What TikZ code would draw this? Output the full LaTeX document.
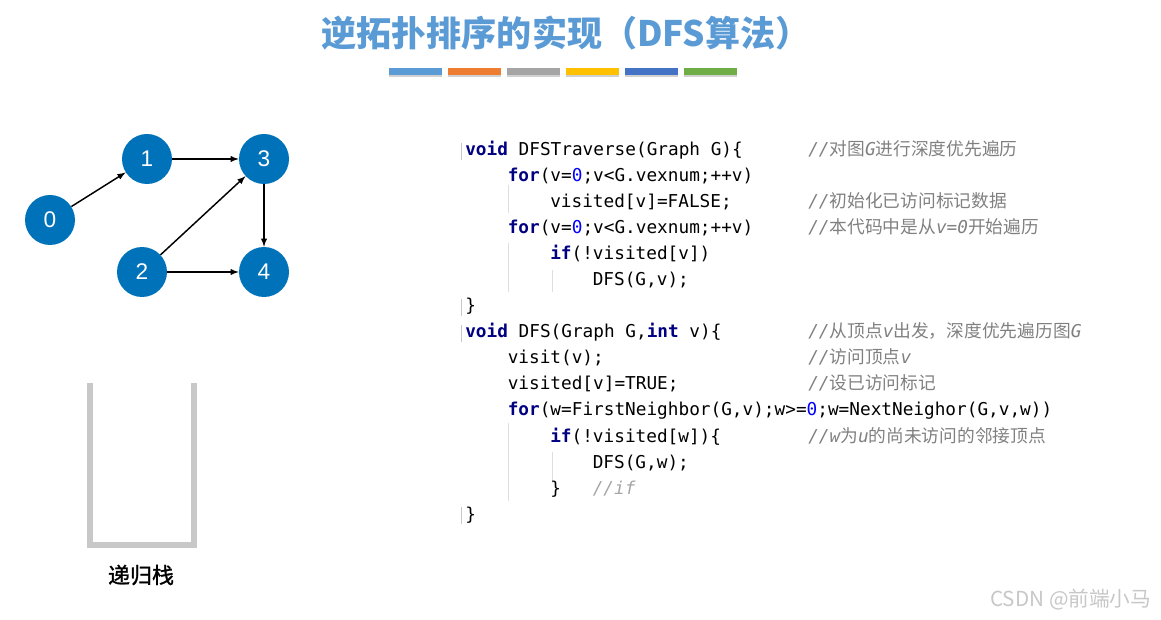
\documentclass[tikz,border=0pt]{standalone}
\usepackage{fontspec}
\setmainfont{Liberation Sans}
\setmonofont{DejaVu Sans Mono}
\newfontfamily\cjk{Noto Sans CJK SC}
\newfontfamily\cjkheavy[FakeBold=1.2]{Noto Sans CJK SC}
\usepackage{xcolor}
\usepackage{tikz}
\usetikzlibrary{arrows}

\definecolor{titleblue}{RGB}{91,155,213}
\definecolor{vertexblue}{RGB}{0,114,186}
\definecolor{keynavy}{RGB}{0,0,128}
\definecolor{digitblue}{RGB}{0,0,255}
\definecolor{cmtgray}{RGB}{128,128,128}
\definecolor{iflight}{RGB}{165,165,165}
\definecolor{guidegray}{RGB}{222,222,222}
\definecolor{stackgray}{RGB}{200,200,200}
\definecolor{markgray}{RGB}{200,200,200}

\newcommand{\kw}[1]{{\bfseries\color{keynavy}#1}}
\newcommand{\dg}[1]{{\color{digitblue}#1}}
\newcommand{\zh}[1]{{\cjk\upshape #1}}

\tikzset{
  vertex/.style={circle, fill=vertexblue, minimum size=37.5pt, inner sep=0pt,
    text=white, font=\fontsize{17}{19}\selectfont},
  edge/.style={-latex, line width=1.1pt, black},
  codeline/.style={anchor=base west, inner sep=0pt,
    font=\ttfamily\fontsize{13.3}{15}\selectfont},
  comment/.style={codeline, text=cmtgray,
    font=\ttfamily\itshape\fontsize{13.3}{15}\selectfont},
  guide/.style={guidegray, line width=0.75pt},
}

\begin{document}
\begin{tikzpicture}[x=0.75pt, y=-0.75pt]
  \useasboundingbox (0,0) rectangle (1161,620);

  % title and colour bars
  \node[text=titleblue, font=\cjk\bfseries\fontsize{26.3}{28}\selectfont] (title) at (566,33) {逆拓扑排序的实现（DFS算法）};
  \foreach \cr/\cg/\cb [count=\i from 0] in {91/155/213, 237/125/49, 165/165/165, 255/192/0, 68/114/196, 112/173/71} {
    \definecolor{barcol}{RGB}{\cr,\cg,\cb}
    \fill[black, opacity=0.18] (389+59*\i,69.5) rectangle ++(53,7.5);
    \fill[barcol] (389+59*\i,68) rectangle ++(53,7);
  }

  % graph
  \node[vertex] (v0) at (50,220) {0};
  \node[vertex] (v1) at (147,159) {1};
  \node[vertex] (v3) at (264,159) {3};
  \node[vertex] (v2) at (142,272) {2};
  \node[vertex] (v4) at (264,272) {4};

  \draw[edge] (v0) -- (v1);
  \draw[edge] (v1) -- (v3);
  \draw[edge] (v2) -- (v3);
  \draw[edge] (v2) -- (v4);
  \draw[edge] (v3) -- (v4);

  % recursion stack
  \draw[stackgray, line width=4.5pt] (89.5,383) -- (89.5,544.5) -- (193.5,544.5) -- (193.5,383);
  \node[font=\cjkheavy\fontsize{16.5}{18}\selectfont] (stacklabel) at (141,575) {递归栈};

  % indent guides
  \foreach \y in {156,312,338,520} \draw[markgray, line width=0.75pt] (461,\y-13) -- (461,\y+4);
  \draw[guide] (508,185) -- (508,213);
  \draw[guide] (508,243) -- (508,292);
  \draw[guide] (552,270) -- (552,292);
  \draw[guide] (508,423) -- (508,501);
  \draw[guide] (552,452) -- (552,483);

  % code
  \node[codeline] (c0) at (465,156) {\kw{void} DFSTraverse(Graph G)\{};
  \node[codeline] (c1) at (507.5,182) {\kw{for}(v=\dg{0};v<G.vexnum;++v)};
  \node[codeline] (c2) at (550,208) {visited[v]=FALSE;};
  \node[codeline] (c3) at (507.5,234) {\kw{for}(v=\dg{0};v<G.vexnum;++v)};
  \node[codeline] (c4) at (550,260) {\kw{if}(!visited[v])};
  \node[codeline] (c5) at (592.5,286) {DFS(G,v);};
  \node[codeline] (c6) at (465,312) {\}};
  \node[codeline] (c7) at (465,338) {\kw{void} DFS(Graph G,\kw{int} v)\{};
  \node[codeline] (c8) at (507.5,364) {visit(v);};
  \node[codeline] (c9) at (507.5,390) {visited[v]=TRUE;};
  \node[codeline] (c10) at (507.5,416) {\kw{for}(w=FirstNeighbor(G,v);w>=\dg{0};w=NextNeighor(G,v,w))};
  \node[codeline] (c11) at (550,442) {\kw{if}(!visited[w])\{};
  \node[codeline] (c12) at (592.5,468) {DFS(G,w);};
  \node[codeline] (c13) at (550,494) {\}};
  \node[comment, text=iflight] (m13) at (592.5,494) {//if};
  \node[codeline] (c14) at (465,520) {\}};

  % comments
  \node[comment] (m0) at (808,156) {//\zh{对图}G\zh{进行深度优先遍历}};
  \node[comment] (m2) at (808,208) {//\zh{初始化已访问标记数据}};
  \node[comment] (m3) at (808,234) {//\zh{本代码中是从}v=0\zh{开始遍历}};
  \node[comment] (m7) at (808,338) {//\zh{从顶点}v\zh{出发，深度优先遍历图}G};
  \node[comment] (m8) at (808,364) {//\zh{访问顶点}v};
  \node[comment] (m9) at (808,390) {//\zh{设已访问标记}};
  \node[comment] (m11) at (808,442) {//w\zh{为}u\zh{的尚未访问的邻接顶点}};

  % watermark
  \node[anchor=east, text=black!22, font=\cjk\fontsize{15.5}{17}\selectfont] (mark) at (1156,600) {CSDN @前端小马};
\end{tikzpicture}
\end{document}
